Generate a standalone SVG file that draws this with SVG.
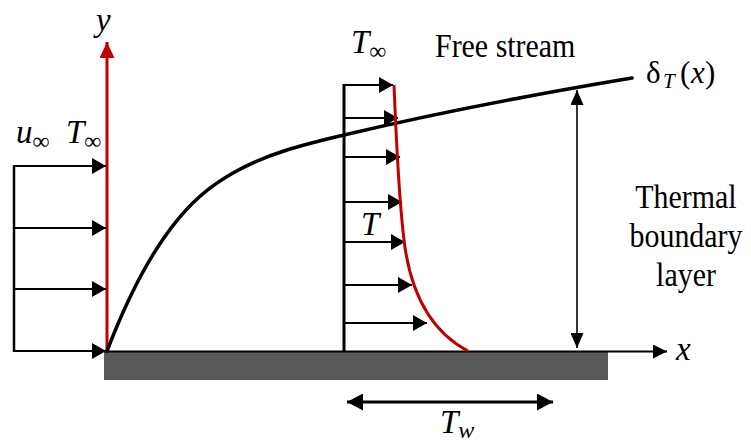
<svg xmlns="http://www.w3.org/2000/svg" width="751" height="443" viewBox="0 0 751 443">
  <style>
    .blk { stroke: #000; fill: none; }
    .txt { font-family: "Liberation Serif", "Times New Roman", serif; fill: #000; }
    .math { font-family: "Liberation Serif", "Times New Roman", serif; font-style: italic; fill: #000; font-size: 33px; }
    .sub { font-family: "Liberation Serif", "DejaVu Serif", serif; font-style: normal; font-size: 24px; }
    .up { font-style: normal; }
  </style>
  <defs>
    <marker id="ah" markerUnits="userSpaceOnUse" markerWidth="14" markerHeight="16" refX="14" refY="8" orient="auto">
      <path d="M0,0 L14,8 L0,16 z" fill="#000"/>
    </marker>
    <marker id="ahRed" markerUnits="userSpaceOnUse" markerWidth="16" markerHeight="15" refX="16" refY="7.5" orient="auto">
      <path d="M0,0 L16,7.5 L0,15 z" fill="#C00000"/>
    </marker>
    <marker id="ahThin" markerUnits="userSpaceOnUse" markerWidth="15" markerHeight="13" refX="15" refY="6.5" orient="auto-start-reverse">
      <path d="M0,0 L15,6.5 L0,13 z" fill="#000"/>
    </marker>
    <marker id="ahBold" markerUnits="userSpaceOnUse" markerWidth="16" markerHeight="17" refX="16" refY="8.5" orient="auto-start-reverse">
      <path d="M0,0 L16,8.5 L0,17 z" fill="#000"/>
    </marker>
    <marker id="ahAxis" markerUnits="userSpaceOnUse" markerWidth="14" markerHeight="14" refX="14" refY="7" orient="auto">
      <path d="M0,0 L14,7 L0,14 z" fill="#000"/>
    </marker>
  </defs>

  <g id="plate">
    <rect x="104" y="352" width="504" height="28" fill="#595959"/>
  </g>

  <g id="connectors">
    <!-- x axis -->
    <line class="blk" x1="104" y1="351.5" x2="667" y2="351.5" stroke-width="2" marker-end="url(#ahAxis)"/>
    <!-- y axis -->
    <line x1="107" y1="352" x2="107" y2="42" stroke="#C00000" stroke-width="3" marker-end="url(#ahRed)"/>

    <!-- left uniform profile -->
    <line class="blk" x1="14" y1="165" x2="14" y2="352" stroke-width="2.5"/>
    <line class="blk" x1="14" y1="166" x2="106" y2="166" stroke-width="2" marker-end="url(#ah)"/>
    <line class="blk" x1="14" y1="228" x2="106" y2="228" stroke-width="2" marker-end="url(#ah)"/>
    <line class="blk" x1="14" y1="289" x2="106" y2="289" stroke-width="2" marker-end="url(#ah)"/>
    <line class="blk" x1="14" y1="351" x2="106" y2="351" stroke-width="2" marker-end="url(#ah)"/>

    <!-- temperature profile -->
    <line class="blk" x1="344" y1="84" x2="344" y2="352" stroke-width="3"/>
    <line class="blk" x1="344" y1="85" x2="393" y2="85" stroke-width="2" marker-end="url(#ah)"/>
    <line class="blk" x1="344" y1="118" x2="398" y2="118" stroke-width="2" marker-end="url(#ah)"/>
    <line class="blk" x1="344" y1="157" x2="400" y2="157" stroke-width="2" marker-end="url(#ah)"/>
    <line class="blk" x1="344" y1="202" x2="402" y2="202" stroke-width="2" marker-end="url(#ah)"/>
    <line class="blk" x1="344" y1="242" x2="405" y2="242" stroke-width="2" marker-end="url(#ah)"/>
    <line class="blk" x1="344" y1="285" x2="412" y2="285" stroke-width="2" marker-end="url(#ah)"/>
    <line class="blk" x1="344" y1="323" x2="427" y2="323" stroke-width="2" marker-end="url(#ah)"/>

    <!-- boundary layer thickness curve -->
    <path class="blk" stroke-width="3.5" stroke-linecap="round" d="M107,351 C157,221 203,190.4 233,173 C268,152.7 309,143.4 344,135 C420,117 530,95 632,78"/>

    <!-- red temperature curve -->
    <path d="M394,85 C397,160 401,215 404,240 C410,290 428,330 468,351" fill="none" stroke="#C00000" stroke-width="3"/>

    <!-- thickness double arrow -->
    <line class="blk" x1="577" y1="90" x2="577" y2="348" stroke-width="1.6" marker-start="url(#ahThin)" marker-end="url(#ahThin)"/>

    <!-- wall double arrow -->
    <line class="blk" x1="347" y1="402" x2="553" y2="402" stroke-width="3" marker-start="url(#ahBold)" marker-end="url(#ahBold)"/>
  </g>

  <g id="labels">
    <text class="math" x="96" y="31">y</text>
    <text class="math" x="676" y="360" font-size="36">x</text>
    <text class="math" x="16" y="143">u<tspan class="sub" dy="6">∞</tspan></text>
    <text class="math" x="66" y="143">T<tspan class="sub" dy="6">∞</tspan></text>
    <text class="math" x="351" y="53">T<tspan class="sub" dy="6">∞</tspan></text>
    <text class="math" x="361" y="235">T</text>
    <text class="math" x="440" y="433">T<tspan font-size="24" dy="5">w</tspan></text>
    <text class="math" y="83"><tspan x="646" class="up" font-size="31">δ</tspan><tspan x="663" font-size="21" dy="5">T</tspan><tspan x="680" class="up" font-size="31" dy="-5">(</tspan><tspan x="691" font-size="31">x</tspan><tspan x="705" class="up" font-size="31">)</tspan></text>
    <g transform="translate(435,57) scale(0.88,1)">
      <text class="txt" x="0" y="0" font-size="34">Free stream</text>
    </g>
    <g transform="translate(686,0) scale(0.88,1)">
      <text class="txt" x="0" y="208" font-size="34" text-anchor="middle">Thermal</text>
      <text class="txt" x="0" y="247" font-size="34" text-anchor="middle">boundary</text>
      <text class="txt" x="0" y="286" font-size="34" text-anchor="middle">layer</text>
    </g>
  </g>
</svg>
